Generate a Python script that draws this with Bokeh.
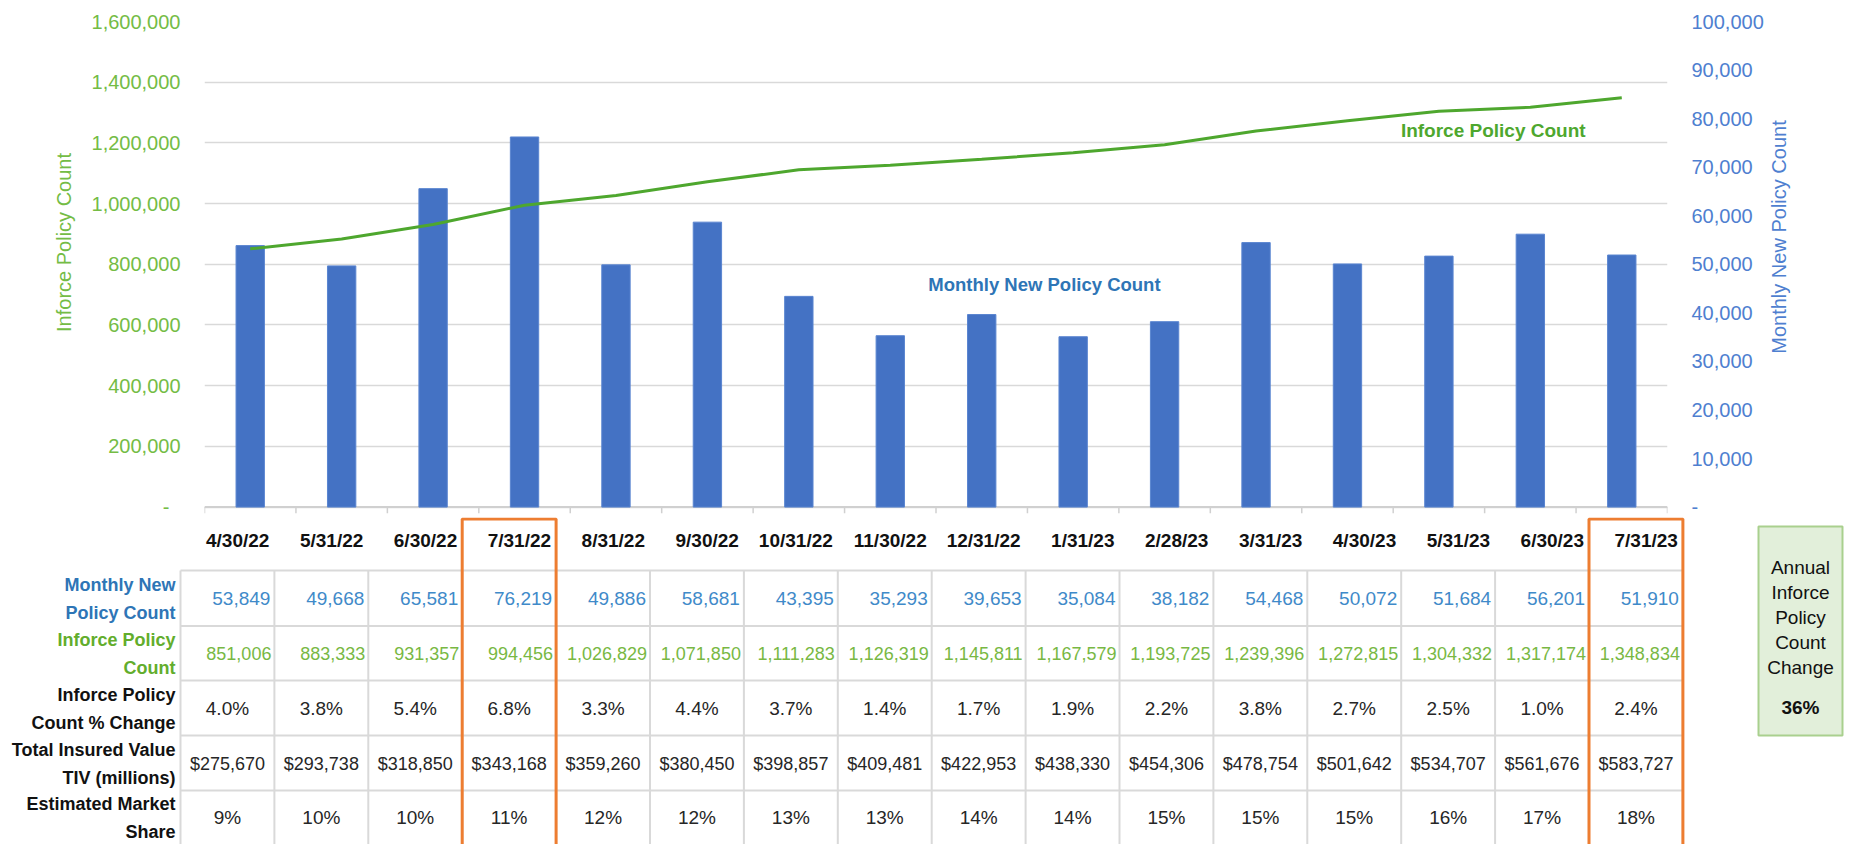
import math
from bokeh.plotting import figure
from bokeh.models import FactorRange, Range1d, LinearAxis, FixedTicker, NumeralTickFormatter
from bokeh.layouts import row
from bokeh.embed import file_html
from bokeh.resources import INLINE
from bokeh.core.properties import value

# ---------------- data ----------------
categories = ["4/30/22", "5/31/22", "6/30/22", "7/31/22", "8/31/22", "9/30/22", "10/31/22", "11/30/22",
              "12/31/22", "1/31/23", "2/28/23", "3/31/23", "4/30/23", "5/31/23", "6/30/23", "7/31/23"]
new_policies = [53849, 49668, 65581, 76219, 49886, 58681, 43395, 35293,
                39653, 35084, 38182, 54468, 50072, 51684, 56201, 51910]
inforce = [851006, 883333, 931357, 994456, 1026829, 1071850, 1111283, 1126319,
           1145811, 1167579, 1193725, 1239396, 1272815, 1304332, 1317174, 1348834]
pct_change = [4.0, 3.8, 5.4, 6.8, 3.3, 4.4, 3.7, 1.4, 1.7, 1.9, 2.2, 3.8, 2.7, 2.5, 1.0, 2.4]
tiv_millions = [275670, 293738, 318850, 343168, 359260, 380450, 398857, 409481,
                422953, 438330, 454306, 478754, 501642, 534707, 561676, 583727]
market_share = [9, 10, 10, 11, 12, 12, 13, 13, 14, 14, 15, 15, 15, 16, 17, 18]
left_ticks = [0, 200000, 400000, 600000, 800000, 1000000, 1200000, 1400000, 1600000]
right_ticks = [0, 10000, 20000, 30000, 40000, 50000, 60000, 70000, 80000, 90000, 100000]
row_labels = ["Monthly New\nPolicy Count", "Inforce Policy\nCount", "Inforce Policy\nCount % Change",
              "Total Insured Value\nTIV (millions)", "Estimated Market\nShare"]
highlight = ["7/31/22", "7/31/23"]
annual_box_lines = ["Annual", "Inforce", "Policy", "Count", "Change"]
annual_change = "36%"

FONT = value("Liberation Sans")
GREEN_AX = "#74BC45"
GREEN_LINE = "#4EA72E"
BLUE_BAR = "#4472C4"
BLUE_AX = "#4F7FD0"
BLUE_TXT = "#2E75B6"
GRID = "#D9D9D9"
NBSP = "\u00a0"

W, H = 1849, 844
CH = 517
SIDE = 83               # strip on the right holding the secondary axis title
LMAX, RMAX = 1600000, 100000
PAD = 0.0132            # room below the baseline for the category tick marks

# ---------------- chart ----------------
p = figure(width=W - SIDE, height=CH, x_range=FactorRange(*categories, range_padding=0),
           y_range=Range1d(-PAD * LMAX, LMAX), output_backend="svg", toolbar_location=None,
           x_axis_location=None, y_axis_location="left",
           min_border_left=204, min_border_right=W - SIDE - 1667, min_border_top=21, min_border_bottom=4)
p.outline_line_color = None
p.extra_y_ranges = {"new": Range1d(-PAD * RMAX, RMAX)}

p.xgrid.visible = False
p.ygrid.ticker = FixedTicker(ticks=left_ticks)
p.ygrid.grid_line_color = GRID
p.ygrid.grid_line_width = 1.5

ya = p.yaxis[0]
ya.ticker = FixedTicker(ticks=left_ticks)
ya.formatter = NumeralTickFormatter(format="0,0")
ya.major_label_overrides = {0: "-" + NBSP * 2}
ya.major_label_text_font = "Liberation Sans"
ya.major_label_text_font_size = "20px"
ya.major_label_text_color = GREEN_AX
ya.major_tick_out = 0
ya.major_tick_in = 0
ya.minor_tick_out = 0
ya.minor_tick_in = 0
ya.major_tick_line_color = None
ya.minor_tick_line_color = None
ya.axis_line_color = None
ya.major_label_standoff = 24
ya.axis_label = NBSP * 9 + "Inforce Policy Count"
ya.axis_label_text_font = "Liberation Sans"
ya.axis_label_text_font_style = "normal"
ya.axis_label_text_font_size = "20px"
ya.axis_label_text_color = GREEN_AX
ya.axis_label_standoff = 14

ra = LinearAxis(y_range_name="new", ticker=FixedTicker(ticks=right_ticks),
                formatter=NumeralTickFormatter(format="0,0"))
ra.major_label_overrides = {0: "-"}
ra.major_label_text_font = "Liberation Sans"
ra.major_label_text_font_size = "20px"
ra.major_label_text_color = BLUE_AX
ra.major_tick_out = 0
ra.major_tick_in = 0
ra.minor_tick_out = 0
ra.minor_tick_in = 0
ra.major_tick_line_color = None
ra.minor_tick_line_color = None
ra.axis_line_color = None
ra.major_label_standoff = 24
p.add_layout(ra, "right")

# category axis baseline and boundary tick marks
nb = len(categories) + 1
bounds = list(range(nb))
p.segment(x0=[0], x1=[len(categories)], y0=[0], y1=[0], line_color="#D0D0D0", line_width=2)
p.segment(x0=bounds, x1=bounds, y0=[0] * nb, y1=[-PAD * LMAX] * nb, line_color="#D0D0D0", line_width=1.5)

p.vbar(x=categories, top=new_policies, width=0.31, y_range_name="new",
       fill_color=BLUE_BAR, line_color="#5A85D0", line_width=1)
p.line(x=categories, y=inforce, line_width=3, line_color=GREEN_LINE)

p.text(x=[categories[7]], y=[734000], text=["Monthly New Policy Count"], x_offset=38,
       text_font=FONT, text_font_size=value("18.5px"), text_font_style="bold",
       text_color=BLUE_TXT, text_align="left", text_baseline="middle")
p.text(x=[categories[13]], y=[1241000], text=["Inforce Policy Count"], x_offset=-38,
       text_font=FONT, text_font_size=value("19px"), text_font_style="bold",
       text_color=GREEN_LINE, text_align="left", text_baseline="middle")

# ---------------- secondary axis title strip ----------------
side = figure(width=SIDE, height=CH, x_range=Range1d(W - SIDE, W), y_range=Range1d(CH - 4, 21),
              output_backend="svg", toolbar_location=None, min_border_left=0, min_border_right=0,
              min_border_top=21, min_border_bottom=4, x_axis_location=None, y_axis_location=None)
side.outline_line_color = None
side.grid.visible = False
side.text(x=[1778], y=[236.5], text=["Monthly New Policy Count"], angle=math.pi / 2,
          text_font=FONT, text_font_size=value("20px"), text_color=BLUE_AX,
          text_align="center", text_baseline="middle")

# ---------------- table ----------------
TH = H - CH
top = CH
t = figure(width=W, height=TH, x_range=Range1d(0, W), y_range=Range1d(H, top),
           output_backend="svg", toolbar_location=None, min_border=0,
           x_axis_location=None, y_axis_location=None)
t.outline_line_color = None
t.grid.visible = False

n = len(categories)
TL, CW = 180.0, 93.9
col_left = [TL + i * CW for i in range(n)]
col_right = [TL + (i + 1) * CW for i in range(n)]
col_mid = [TL + (i + 0.5) * CW for i in range(n)]
row_lines = [570, 625.5, 680, 735, 790]
row_mid = [598, 653, 708, 763, 817]

t.segment(x0=[TL] * len(row_lines), x1=[TL + n * CW] * len(row_lines), y0=row_lines, y1=row_lines,
          line_color=GRID, line_width=2)
vx = [TL + i * CW for i in range(n + 1)]
t.segment(x0=vx, x1=vx, y0=[570] * len(vx), y1=[860] * len(vx), line_color=GRID, line_width=2)

t.text(x=[r - 5 for r in col_right], y=[540] * n, text=categories, text_font=FONT,
       text_font_size=value("19px"), text_font_style="bold", text_color="#111111",
       text_align="right", text_baseline="middle")

t.text(x=[r - 4 for r in col_right], y=[row_mid[0]] * n, text=[f"{v:,}" for v in new_policies],
       text_font=FONT, text_font_size=value("19px"), text_color="#3F8AC9",
       text_align="right", text_baseline="middle")
t.text(x=[r - 3 for r in col_right], y=[row_mid[1]] * n, text=[f"{v:,}" for v in inforce],
       text_font=FONT, text_font_size=value("18px"), text_color="#78B843",
       text_align="right", text_baseline="middle")
t.text(x=col_mid, y=[row_mid[2]] * n, text=[f"{v:.1f}%" for v in pct_change],
       text_font=FONT, text_font_size=value("19px"), text_color="#262626",
       text_align="center", text_baseline="middle")
t.text(x=col_mid, y=[row_mid[3]] * n, text=[f"${v:,}" for v in tiv_millions],
       text_font=FONT, text_font_size=value("18px"), text_color="#262626",
       text_align="center", text_baseline="middle")
t.text(x=col_mid, y=[row_mid[4]] * n, text=[f"{v}%" for v in market_share],
       text_font=FONT, text_font_size=value("19px"), text_color="#262626",
       text_align="center", text_baseline="middle")

label_colors = [BLUE_TXT, "#62AD2C", "#111111", "#111111", "#111111"]
t.text(x=[175] * 5, y=row_mid, text=row_labels, text_font=FONT, text_font_size=value("18px"),
       text_font_style="bold", text_color=label_colors, text_align="right",
       text_baseline="middle", text_line_height=1.4)

hi = [categories.index(h) for h in highlight]
t.quad(left=[col_left[i] for i in hi], right=[col_right[i] for i in hi], top=[518.5] * len(hi),
       bottom=[870] * len(hi), fill_alpha=0, line_color="#ED7D31", line_width=3)

t.quad(left=[1758], right=[1842], top=[526], bottom=[735], fill_color="#E2EFDA",
       line_color="#A9D08E", line_width=2)
t.text(x=[1800] * len(annual_box_lines), y=[567 + 25 * k for k in range(len(annual_box_lines))],
       text=annual_box_lines, text_font=FONT, text_font_size=value("19px"), text_color="#111111",
       text_align="center", text_baseline="middle")
t.text(x=[1800], y=[707], text=[annual_change], text_font=FONT, text_font_size=value("19px"),
       text_font_style="bold", text_color="#111111", text_align="center", text_baseline="middle")

open("out.html", "w").write(file_html([row(p, side, spacing=0), t], INLINE))
